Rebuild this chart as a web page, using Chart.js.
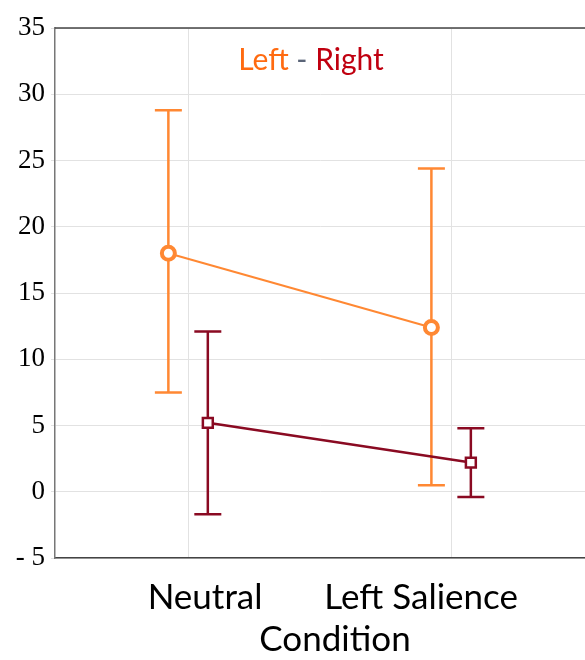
<!DOCTYPE html>
<html>
<head>
<meta charset="utf-8">
<script src="https://cdn.jsdelivr.net/npm/chart.js@4.4.1/dist/chart.umd.min.js"></script>
<style>
  html, body { margin: 0; padding: 0; background: #fff; }
  #wrap { width: 585px; height: 660px; }
</style>
</head>
<body>
<div id="wrap"><canvas id="chart" width="585" height="660"></canvas></div>
<script>
(function() {
    'use strict';

    /* ---- data ---- */
    var categories = ['Neutral', 'Left Salience'];
    var leftMean  = [18.0, 12.4];
    var leftUpper = [28.8, 24.4];
    var leftLower = [7.5, 0.5];
    var rightMean  = [5.2, 2.2];
    var rightUpper = [12.1, 4.8];
    var rightLower = [-1.7, -0.4];
    var yTicks = [-5, 0, 5, 10, 15, 20, 25, 30, 35];

    var ORANGE = '#ff8833';
    var DARKRED = '#8a0a22';
    var SHIFT = 0.075;   // horizontal dodge of each series

    function pts(means, shift) {
        return means.map(function(v, i) { return { x: i + 1 + shift, y: v }; });
    }

    /* ---- error bars + frame + custom text ---- */
    var extras = {
        id: 'extras',
        afterLayout: function(chart) {
            // plot area runs off the right edge, as in the reference
            var a = chart.chartArea;
            a.right = 600;
            a.width = a.right - a.left;
            var s = chart.scales.x;
            s.right = 600;
            s.width = s.right - s.left;
            s.configure();
        },
        beforeDatasetsDraw: function(chart) {
            var ctx = chart.ctx, xs = chart.scales.x, ys = chart.scales.y;
            chart.data.datasets.forEach(function(ds) {
                ctx.save();
                ctx.strokeStyle = ds.borderColor;
                ctx.lineWidth = 2.5;
                ds.data.forEach(function(p, i) {
                    var x = xs.getPixelForValue(p.x);
                    var yt = ys.getPixelForValue(ds.upper[i]);
                    var yb = ys.getPixelForValue(ds.lower[i]);
                    ctx.beginPath();
                    ctx.moveTo(x, yt); ctx.lineTo(x, yb);
                    ctx.moveTo(x - 13.5, yt); ctx.lineTo(x + 13.5, yt);
                    ctx.moveTo(x - 13.5, yb); ctx.lineTo(x + 13.5, yb);
                    ctx.stroke();
                });
                ctx.restore();
            });
        },
        afterDraw: function(chart) {
            var ctx = chart.ctx, a = chart.chartArea, xs = chart.scales.x;
            ctx.save();
            // top frame line
            ctx.strokeStyle = '#444';
            ctx.lineWidth = 1.5;
            ctx.beginPath();
            ctx.moveTo(a.left, a.top); ctx.lineTo(a.right, a.top);
            ctx.stroke();

            // title "Left - Right"
            ctx.font = '30px Lato, "Open Sans", sans-serif';
            ctx.textBaseline = 'middle';
            var parts = [['Left', '#ff6a10'], [' - ', '#5a6478'], ['Right', '#c00010']];
            var total = parts.reduce(function(s, p) { return s + ctx.measureText(p[0]).width; }, 0);
            var x = 311 - total / 2;
            parts.forEach(function(p) {
                ctx.fillStyle = p[1];
                ctx.textAlign = 'left';
                ctx.fillText(p[0], x, 60);
                x += ctx.measureText(p[0]).width;
            });

            // category labels and axis title
            ctx.fillStyle = '#000';
            ctx.textAlign = 'center';
            ctx.font = '35px Lato, "Open Sans", sans-serif';
            var labelShift = [17, -30];
            categories.forEach(function(c, i) {
                ctx.fillText(c, xs.getPixelForValue(i + 1) + labelShift[i], 598);
            });
            ctx.fillText('Condition', 335, 640);
            ctx.restore();
        }
    };

    new Chart(document.getElementById('chart'), {
        type: 'line',
        data: {
            datasets: [
                {
                    label: 'Left',
                    data: pts(leftMean, -SHIFT),
                    upper: leftUpper,
                    lower: leftLower,
                    borderColor: ORANGE,
                    backgroundColor: '#fff',
                    borderWidth: 2,
                    pointStyle: 'circle',
                    pointRadius: 6.5,
                    pointBorderWidth: 4,
                    pointBackgroundColor: '#fff'
                },
                {
                    label: 'Right',
                    data: pts(rightMean, SHIFT),
                    upper: rightUpper,
                    lower: rightLower,
                    borderColor: DARKRED,
                    backgroundColor: '#fff',
                    borderWidth: 2.5,
                    pointStyle: 'rect',
                    pointRadius: 7,
                    pointBorderWidth: 2.5,
                    pointBackgroundColor: '#fff'
                }
            ]
        },
        options: {
            responsive: false,
            animation: false,
            layout: { padding: { top: 28, right: 0, left: 0, bottom: 0 } },
            plugins: {
                legend: { display: false },
                title: { display: false },
                tooltip: { enabled: false }
            },
            scales: {
                x: {
                    type: 'linear',
                    min: 0.494,
                    max: 2.566,
                    afterBuildTicks: function(s) {
                        s.ticks = categories.map(function(c, i) { return { value: i + 1 }; });
                    },
                    ticks: { display: false },
                    grid: { color: '#e2e2e2', lineWidth: 1, drawTicks: true, tickLength: 0 },
                    border: { color: '#444', width: 1.5 },
                    afterFit: function(s) { s.height = 102; }
                },
                y: {
                    min: -5,
                    max: 35,
                    afterBuildTicks: function(s) {
                        s.ticks = yTicks.map(function(v) { return { value: v }; });
                    },
                    ticks: {
                        color: '#000',
                        padding: 6,
                        font: { family: '"Liberation Serif", "DejaVu Serif", serif', size: 27 },
                        callback: function(v) { return v < 0 ? '- ' + Math.abs(v) : String(v); }
                    },
                    grid: { color: '#e2e2e2', lineWidth: 1, tickLength: 4 },
                    border: { color: '#777', width: 1.5 },
                    afterFit: function(s) { s.width = 55; }
                }
            }
        },
        plugins: [extras]
    });
})();
</script>
</body>
</html>
